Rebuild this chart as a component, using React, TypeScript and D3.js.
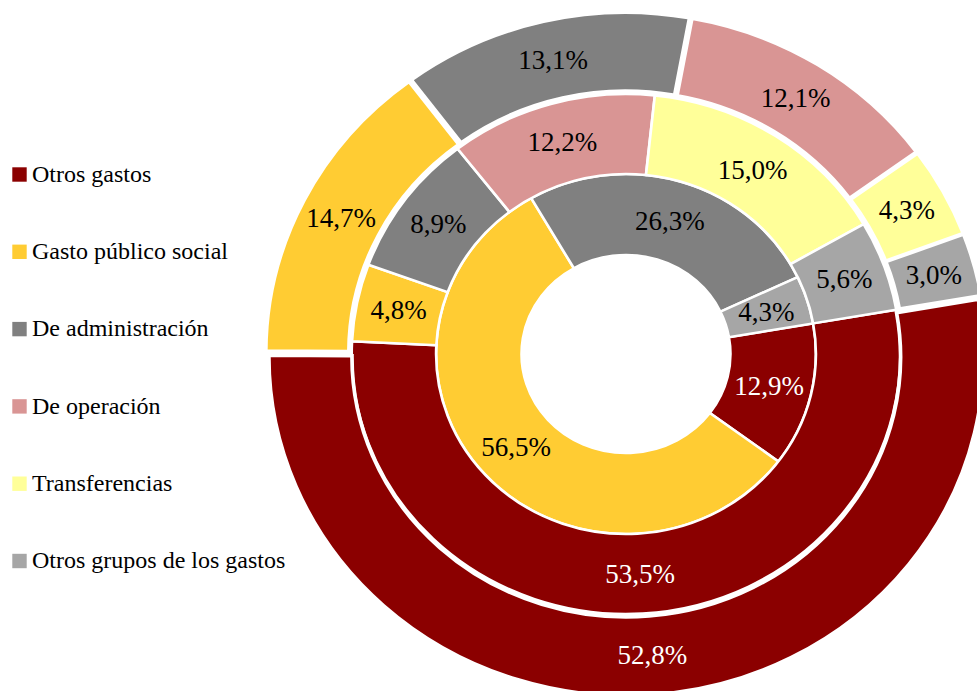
import React from "react";
import * as d3 from "d3";

const categories = [
  "Otros gastos",
  "Gasto público social",
  "De administración",
  "De operación",
  "Transferencias",
  "Otros grupos de los gastos",
];
const colors = ["#8B0000", "#FFCC33", "#808080", "#D99594", "#FFFF99", "#A6A6A6"];
const innerValues = [12.9, 56.5, 26.3, 0, 0, 4.3];
const middleValues = [53.5, 4.8, 8.9, 12.2, 15.0, 5.6];
const outerValues = [52.8, 14.7, 13.1, 12.1, 4.3, 3.0];

const W = 977;
const H = 691;
const cx = 626;
const cy = 354;
const sx = 1.055;
const startDeg = 80.2;

const rings = [
  { values: innerValues, r0: 99, r1: 180, stroke: 2.5, explode: 0 },
  { values: middleValues, r0: 180, r1: 260, stroke: 2.5, explode: 0 },
  { values: outerValues, r0: 260, r1: 338.75, stroke: 3.5, explode: 3 },
];

const fmt = (v: number) => v.toFixed(1).replace(".", ",") + "%";
const FONT = '"Liberation Serif"';

export default function App() {
  const start = (startDeg * Math.PI) / 180;
  const pie = d3
    .pie<number>()
    .sort(null)
    .value((d) => d)
    .startAngle(start)
    .endAngle(start + 2 * Math.PI);

  const slices: any[] = [];
  const labels: any[] = [];
  rings.forEach((ring, ri) => {
    const arc = d3.arc<d3.PieArcDatum<number>>().innerRadius(ring.r0).outerRadius(ring.r1);
    const arcs = pie(ring.values);
    arcs.forEach((a, i) => {
      if (a.value <= 0) return;
      const mid = (a.startAngle + a.endAngle) / 2;
      const ox = ring.explode * Math.sin(mid);
      const oy = -ring.explode * Math.cos(mid);
      slices.push(
        <path
          key={`s${ri}-${i}`}
          d={arc(a) || ""}
          transform={`translate(${ox},${oy})`}
          fill={colors[i]}
          stroke="#fff"
          strokeWidth={ring.stroke}
        />
      );
      const [lx, ly] = arc.centroid(a);
      labels.push(
        <text
          key={`l${ri}-${i}`}
          x={cx + (lx + ox) * sx}
          y={cy + ly + oy + 9}
          textAnchor="middle"
          style={{ fontFamily: FONT, fontSize: "27px", fill: i === 0 ? "#fff" : "#000" }}
        >
          {fmt(a.value)}
        </text>
      );
    });
  });

  const legendTop = 181.7;
  const legendStep = 77.3;

  return (
    <svg width={W} height={H} style={{ position: "absolute", left: 0, top: 0 }}>
      <rect x={0} y={0} width={W} height={H} fill="#fff" />
      <g transform={`translate(${cx},${cy}) scale(${sx},1)`}>{slices}</g>
      {labels}
      {categories.map((c, i) => (
        <g key={c}>
          <rect
            x={12.3}
            y={legendTop + i * legendStep - 14.4}
            width={14.4}
            height={14.4}
            fill={colors[i]}
          />
          <text
            x={32}
            y={legendTop + i * legendStep}
            style={{ fontFamily: FONT, fontSize: "24px" }}
          >
            {c}
          </text>
        </g>
      ))}
    </svg>
  );
}
